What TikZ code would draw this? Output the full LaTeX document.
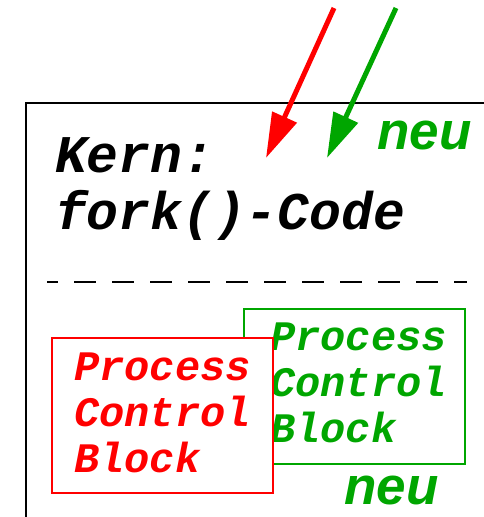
\documentclass[tikz,border=0pt]{standalone}
\usepackage{fontspec}
\setmainfont{Liberation Sans}
\newfontfamily\codefont{Liberation Mono}
\usetikzlibrary{arrows.meta}
\definecolor{pcbred}{RGB}{255,0,0}
\definecolor{pcbgreen}{RGB}{0,166,0}

\begin{document}
\begin{tikzpicture}[x=1pt,y=-1pt,
  % multi-line nodes are placed by the baseline of their last line
  code/.style={font=\codefont\bfseries\itshape\fontsize{53}{57}\selectfont,
    inner sep=0pt, anchor=base west, align=left},
  pcbtext/.style={font=\codefont\bfseries\itshape\fontsize{42}{46}\selectfont,
    inner sep=0pt, anchor=base west, align=left},
  neu/.style={font=\bfseries\itshape\fontsize{53}{53}\selectfont,
    text=pcbgreen, inner sep=0pt, anchor=base west},
  forkarrow/.style={line width=5pt, -{Triangle[length=45pt,width=26pt]}},
  pcbbox/.style={line width=2pt, fill=white, inner sep=0pt, anchor=north west}
]
\useasboundingbox (0,0) rectangle (484,517);

% kernel frame (open to the right and bottom)
\draw[line width=2pt] (484,103) -- (26,103) -- (26,517);

% kernel code text
\node[code] (kern) at (55,229) {Kern:\\fork()-Code};

% separator
\draw[line width=2.5pt, dash pattern=on 22pt off 16pt, dash phase=11pt]
  (47,282) -- (467,282);

% arrows entering the kernel
\coordinate (redsrc) at (334,8);
\coordinate (redtip) at (266,158);
\coordinate (greensrc) at (396,8);
\coordinate (greentip) at (327,158);
\draw[forkarrow, pcbred] (redsrc) -- (redtip);
\draw[forkarrow, pcbgreen] (greensrc) -- (greentip);
\node[neu] (neutop) at (377,149) {neu};

% new process control block (behind)
\node[pcbbox, draw=pcbgreen, minimum width=221pt, minimum height=155pt] (newpcb) at (243,308) {};
\node[pcbtext, text=pcbgreen] (newpcbtext) at (270,442) {Process\\Control\\Block};

% parent process control block (in front)
\node[pcbbox, draw=pcbred, minimum width=221pt, minimum height=155pt] (oldpcb) at (51,337) {};
\node[pcbtext, text=pcbred] (oldpcbtext) at (74,472) {Process\\Control\\Block};

\node[neu] (neubottom) at (344,504) {neu};
\end{tikzpicture}
\end{document}
